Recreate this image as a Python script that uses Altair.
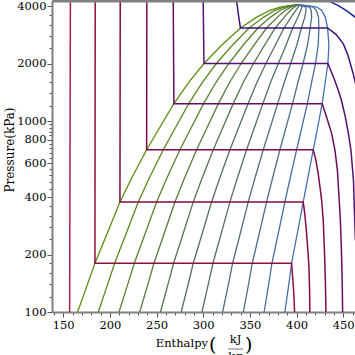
import altair as alt
import pandas as pd

# ---------------- data ----------------
# saturation curves (pressure kPa, enthalpy kJ/kg)
sat_p = [100, 150, 180, 250, 377, 500, 707, 900, 1233, 1600, 2000, 2500, 3069, 3500, 3800, 3950, 4020, 4059]
sat_hf = [165.4, 178.3, 184.0, 196.0, 210.8, 223.1, 239.4, 252.0, 268.6, 284.7, 300.8, 320.0, 339.9, 357.5, 371.5, 382.2, 391.8, 400.4]
sat_hg = [387.5, 392.6, 394.7, 400.3, 407.2, 412.0, 417.9, 422.1, 427.5, 430.8, 433.6, 434.7, 433.3, 430.9, 426.7, 421.7, 412.2, 400.4]
qualities = [0.0, 0.1, 0.2, 0.3, 0.4, 0.5, 0.6, 0.7, 0.8, 0.9, 1.0]

# isotherms (cold -> hot)
iso_names = ["T1", "T2", "T3", "T4", "T5", "T6", "T7", "T8"]
iso_h = {
    "T1": [157.7, 156.9],
    "T2": [184.3, 184.0, 394.7, 396.1, 397.2, 397.9],
    "T3": [211.1, 210.8, 407.2, 409.0, 410.8, 412.5, 413.3, 414.0, 414.3],
    "T4": [239.6, 239.4, 417.9, 420.8, 423.2, 425.6, 426.9, 428.6, 429.9, 430.9, 431.5],
    "T5": [267.9, 268.6, 427.5, 432.6, 437.6, 441.2, 443.8, 445.4, 447.0, 448.1, 448.9, 449.4],
    "T6": [300.0, 300.8, 433.6, 440.1, 444.7, 448.1, 451.9, 455.6, 458.3, 461.0, 462.0, 463.1],
    "T7": [335.8, 337.7, 339.9, 433.3, 442.2, 450.0, 455.1, 460.7, 463.6],
    "T8": [435.5, 440.1, 444.4, 450.0, 456.1, 462.6, 465.8],
}
iso_p = {
    "T1": [4250, 100],
    "T2": [4250, 180, 180, 146.6, 122.3, 100],
    "T3": [4250, 377, 377, 320.9, 258.2, 198.2, 171.4, 129.9, 100],
    "T4": [4250, 707, 707, 622.6, 532.3, 433.8, 384.5, 302.1, 210.4, 146.6, 100],
    "T5": [4250, 1233, 1233, 1033, 862, 702.5, 552, 408.3, 302.1, 210.4, 146.6, 100],
    "T6": [4250, 2000, 2000, 1673, 1448, 1284, 1071, 862, 702.5, 489.3, 341.2, 237.4],
    "T7": [4250, 3619, 3069, 3069, 2844, 2542, 2208, 1771, 1538],
    "T8": [4250, 4119, 4035, 3877, 3708, 3503, 3408],
}
iso_colors = ["#a82346", "#900d3c", "#850944", "#790a50", "#6a0b5e", "#54106c", "#3e1279", "#1a2c8f"]

x_ticks = list(range(140, 461, 10))
y_ticks = (list(range(100, 201, 20)) + list(range(240, 401, 40)) + list(range(440, 1001, 40))
           + list(range(1200, 2001, 200)) + list(range(2400, 4001, 400)))
y_labels = [100, 200, 400, 600, 800, 1000, 2000, 4000]

# ---------------- tables ----------------
rows = []
for q in qualities:
    for i, (p, hf, hg) in enumerate(zip(sat_p, sat_hf, sat_hg)):
        rows.append({"name": f"q{q:.1f}", "i": i, "p": p, "h": hf + q * (hg - hf)})
qdf = pd.DataFrame(rows)
q_names = [f"q{q:.1f}" for q in qualities]

def mix(a, b, t):
    return "#%02x%02x%02x" % tuple(round(a[k] + (b[k] - a[k]) * t) for k in range(3))
c0, cm, c1 = (0x5a, 0x8e, 0x10), (0x52, 0x70, 0x58), (0x48, 0x6e, 0xb0)
q_colors = [mix(c0, cm, q * 2) if q <= 0.5 else mix(cm, c1, (q - 0.5) * 2) for q in qualities]

rows = []
for n in iso_names:
    for i, (h, p) in enumerate(zip(iso_h[n], iso_p[n])):
        rows.append({"name": n, "i": i, "p": p, "h": h})
idf = pd.DataFrame(rows)

FONT = "DejaVu Serif"
W, H = 303, 311

label_test = "indexof(" + str(y_labels) + ", datum.value) >= 0"

def xaxis():
    return alt.Axis(values=x_ticks, labelExpr="datum.value % 50 === 0 ? datum.label : ''",
                    format="d", grid=False, domainColor="#808080", domainWidth=2,
                    tickColor="#555555", tickWidth=1,
                    tickSize={"condition": {"test": "datum.value % 50 === 0", "value": 5}, "value": 3},
                    labelFont=FONT, labelFontSize=11.5, labelColor="black", labelPadding=2,
                    labelOverlap=False, labelFlush=False, labelBound=False, title=None)

def yaxis():
    return alt.Axis(values=y_ticks, labelExpr=label_test + " ? datum.label : ''",
                    format="d", grid=False, domainColor="#808080", domainWidth=2,
                    tickColor="#555555", tickWidth=1,
                    tickSize={"condition": {"test": label_test, "value": 5}, "value": 3},
                    labelFont=FONT, labelFontSize=11.5, labelColor="black", labelPadding=1,
                    labelOverlap=False, labelFlush=False, labelBound=False, title=None)

def xs():
    return alt.X("h:Q", scale=alt.Scale(domain=[138, 462.65], nice=False, zero=False), axis=xaxis())

def ys():
    return alt.Y("p:Q", scale=alt.Scale(type="log", domain=[100, 4250], nice=False), axis=yaxis())

qual = alt.Chart(qdf).mark_line(strokeWidth=1.3, clip=True).encode(
    x=xs(), y=ys(),
    color=alt.Color("name:N", scale=alt.Scale(domain=q_names, range=q_colors), legend=None),
    order="i:Q",
)
iso = alt.Chart(idf).mark_line(strokeWidth=1.5, clip=True).encode(
    x=xs(), y=ys(),
    color=alt.Color("name:N", scale=alt.Scale(domain=iso_names, range=iso_colors), legend=None),
    order="i:Q",
)

one = pd.DataFrame({"a": [0]})
top = alt.Chart(one).mark_rule(color="#808080", strokeWidth=2.5).encode(
    x=alt.value(0), x2=alt.value(W + 5), y=alt.value(0.3))

def txt(s, x, y, size=11.5, align="left", baseline="alphabetic", angle=0):
    return alt.Chart(one).mark_text(text=s, font=FONT, fontSize=size, align=align,
                                    baseline=baseline, angle=angle, color="black").encode(
        x=alt.value(x), y=alt.value(y))

ytitle = txt("Pressure(kPa)", -42, 149, size=12, align="center", baseline="middle", angle=270)
t_ent = txt("Enthalpy", 156, 346, align="right")
t_lp = txt("(", 157, 344, size=19, baseline="middle")
t_kj = txt("kJ", 183.5, 342, align="center")
t_bar = alt.Chart(one).mark_rule(color="#777777", strokeWidth=1).encode(
    x=alt.value(176), x2=alt.value(191), y=alt.value(348))
t_kg = txt("kg", 183.5, 359, align="center")
t_rp = txt(")", 193, 344, size=19, baseline="middle")

chart = alt.layer(qual, iso, top, ytitle, t_ent, t_lp, t_kj, t_bar, t_kg, t_rp).properties(
    width=W, height=H,
    padding={"left": 52, "top": 1, "right": 0, "bottom": 43},
    autosize=alt.AutoSizeParams(type="none"),
    background="white",
).resolve_scale(color="independent").configure_view(stroke=None)

chart.save("out.html", embed_options={"renderer": "svg", "actions": False})
